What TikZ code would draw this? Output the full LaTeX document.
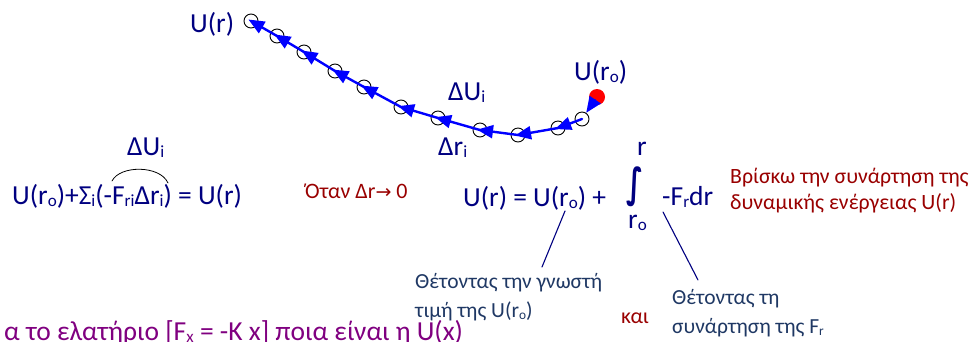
\documentclass[tikz,border=0pt]{standalone}
\usepackage{fontspec}
\setmainfont{Carlito}
\newfontfamily\symfont{DejaVu Sans}
\usepackage{graphicx}
\usetikzlibrary{arrows.meta}

\definecolor{eqblue}{RGB}{0,0,128}
\definecolor{noteblue}{RGB}{31,56,100}
\definecolor{darkred}{RGB}{153,0,0}
\definecolor{lilac}{RGB}{128,0,128}
\definecolor{pathblue}{RGB}{0,0,255}
\newcommand\dn[1]{\raisebox{-.1em}{\scalebox{.62}{#1}}}

\tikzset{
  txt/.style={inner sep=0pt,anchor=base west},
  big/.style={txt,eqblue,font=\fontsize{27.5}{32}\selectfont},
  note/.style={txt,noteblue,align=left,font=\fontsize{21.5}{28.5}\selectfont},
  remark/.style={txt,darkred,align=left,font=\fontsize{21.8}{26}\selectfont},
  ring/.style={circle,draw=black,line width=.9pt,minimum size=14pt,inner sep=0pt},
  hop/.style={pathblue,line width=2.4pt,shorten >=-3pt,-{Triangle[length=16pt,width=13pt]}},
}

\begin{document}
\begin{tikzpicture}[x=1pt,y=-1pt,line cap=round]
  \useasboundingbox (0,0) rectangle (971,341);
  \clip (0,0) rectangle (971,341);

  % the small steps from U(ro) to U(r)
  \foreach \n/\px/\py in {1/251/21,2/277/36,3/304/52,4/335/71,5/364/87,6/401/107,
      7/438/118,8/480/130,9/518/135,10/558/128,11/582/119}
    \node[ring] (c\n) at (\px,\py) {};
  \node[circle,fill=red,minimum size=16pt,inner sep=0pt] (uro) at (597,97) {};
  \draw[hop,shorten >=0pt] (uro) -- (c11);
  \foreach \a/\b in {11/10,10/9,9/8,8/7,7/6,6/5,5/4,4/3,3/2,2/1}
    \draw[hop] (c\a.center) -- (c\b.center);

  \node[big] (ur) at (190,32) {U(r)};
  \node[big] (urolbl) at (574,80) {U(r\dn{o})};
  \node[big] (dui) at (448,100) {ΔU\dn{i}};
  \node[big] (dri) at (438,155) {Δr\dn{i}};

  % sum of the steps
  \node[big] (sum) at (12,204) {U(r\dn{o})+Σ\dn{i}(-F\dn{ri}Δr\dn{i}) = U(r)};
  \node[big] (sumdu) at (127,155) {ΔU\dn{i}};
  \draw[line width=.8pt] (112,181) .. controls (120,165) and (160,165) .. (168,183);
  \node[txt,darkred,font=\fontsize{22}{25}\selectfont] (limit) at (305,198)
    {Όταν Δr{\symfont\fontsize{19}{20}\selectfont →} 0};

  % the integral
  \node[big] (lhs) at (463,206) {U(r) = U(r\dn{o}) +};
  \node[eqblue,inner sep=0pt] (intg) at (635,187)
    {\resizebox*{17pt}{40pt}{\symfont\bfseries ∫}};
  \node[big] (upper) at (637,155) {r};
  \node[big] (lower) at (628,228) {r\dn{o}};
  \node[big] (integrand) at (662,205) {-F\dn{r}dr};
  \node[remark] (find) at (730,209) {Βρίσκω την συνάρτηση της\\δυναμικής ενέργειας U(r)};

  % what is put in
  \coordinate (ptA) at (565,211);
  \coordinate (endA) at (542,267);
  \coordinate (ptB) at (663,212);
  \coordinate (endB) at (698,280);
  \draw[eqblue,line width=1.1pt] (ptA) -- (endA);
  \draw[eqblue,line width=1.1pt] (ptB) -- (endB);
  \node[note] (noteA) at (415,317) {Θέτοντας την γνωστή\\τιμή της U(r\dn{o})};
  \node[note] (noteB) at (672,333) {Θέτοντας τη\\συνάρτηση της F\dn{r}};
  \node[txt,darkred,font=\fontsize{22}{24}\selectfont] (and) at (621,323) {και};

  \node[txt,lilac,font=\fontsize{27.5}{32}\selectfont] (task) at (4,340)
    {α το ελατήριο [F\dn{x} = -K x] ποια είναι η U(x)};
\end{tikzpicture}
\end{document}
